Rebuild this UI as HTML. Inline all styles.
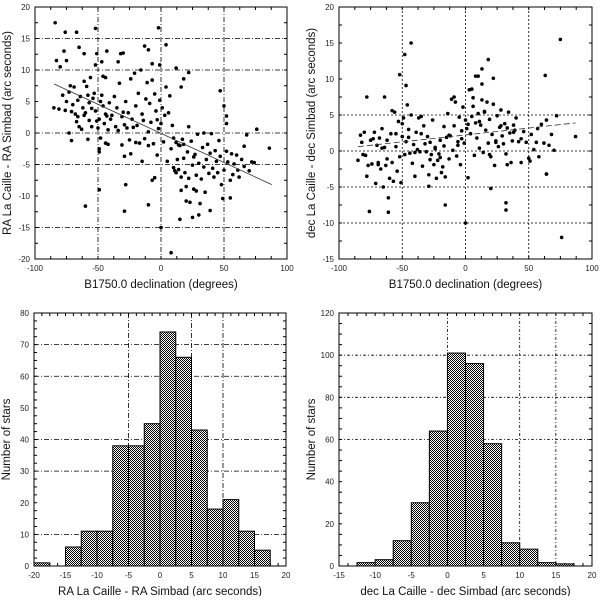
<!DOCTYPE html>
<html><head><meta charset="utf-8"><style>
body{margin:0;background:#fff;width:600px;height:596px;overflow:hidden}
svg{font-family:"Liberation Sans",sans-serif}
</style></head><body>
<svg id="fig" width="600" height="596" viewBox="0 0 600 596">
<defs><pattern id="chk" width="2" height="2" patternUnits="userSpaceOnUse"><rect width="2" height="2" fill="#fff"/><rect width="1" height="1" fill="#000"/><rect x="1" y="1" width="1" height="1" fill="#000"/></pattern></defs>
</svg>
<script>
// ---- top-left scatter data: declination, RA diff
const raDec=[-84,-76,-67,-52,-2,4,-83,-80,-75,-77,-65,-61,-51,-43,-32,-30,-34,-47,-52,-13,-10,-1,-7,12,22,18,16,47,50,52,52,76,68,86,74,66,49,55,39,30,25,15,8,0,-10,-29,-60,-49,-28,-7,-5,-29,-24,-85,-81,-73,-71,-58,-49,-49,
-78,-75,-73,-70,-68,-66,-64,-62,-60,-58,-57,-55,-54,-52,-50,-49,-47,-46,-45,-44,-43,-42,-41,-40,-72,-69,-67,-65,-63,-61,-59,-56,-53,-48,-46,-44,-71,-76,-66,-61,-57,-55,-51,-48,-44,-42,-39,-37,-36,-35,-34,-33,-31,-30,-29,-28,-27,-26,-25,-24,-23,-22,-21,-20,-19,-18,-17,-16,-15,-14,-13,-12,-11,-10,-9,-8,-7,-6,-5,-4,-3,-2,-1,0,1,2,3,4,5,6,7,8,9,-31,-20,-15,-10,-3,
10,11,12,13,14,15,16,17,18,19,20,21,22,23,24,25,26,27,28,29,30,31,32,33,34,35,36,37,38,39,40,41,42,43,44,45,46,47,48,50,52,53,55,56,57,58,60,61,62,64,66,70,72,10,14,18,22,26,34,12,16,20,28];
const raDiff=[17.5,16,16,16.6,16.7,14,11.5,10.5,11.5,13,13.6,12.6,12.6,13,12.6,12.7,11.3,11.3,10.8,13.8,13.2,10.8,11,10.3,9.6,8.6,7.3,6.7,4.3,2.7,1.5,0.6,-0.3,-2.4,-4.7,-2.1,-10.4,-10.3,-12.3,-13,-13.4,-13.7,-19,-15,-11.4,-12.4,-11.6,-9,-8.2,-7.5,-7.1,-3.7,-3.3,4,3.8,0,-1.2,-1,-3,-2.5,
6,5,6.5,4.5,3,5.2,5.8,4,3.2,6,2,1,5.5,3.5,0.8,2.2,6,4.3,1.5,3,2.7,0.5,4.8,2.2,7.5,7.3,1.8,1,0.6,8.2,7.4,8.8,6.3,5,9,8.8,3.4,3.6,2.6,2.8,4.8,3.9,1.9,-0.8,-1.6,-1.8,2.8,5.8,1,4,0.4,7.9,2.6,3.3,1.3,5,0.8,3.2,-1.1,8.6,2.2,0.9,9.5,4.3,1.2,6.3,-1.6,10,3,2,-0.9,5.4,8,0.2,4.7,1.7,8.4,-1.7,6.2,3.5,2.1,0.7,5.2,1.5,4,-1.4,2.8,7.3,-4.5,3.2,5.9,-2.5,1.2,-1.9,-1.5,-4.5,-2,-3.5,
-5.5,-6,-1.5,-4.2,-5.8,-2,-7,-1,-4,-6.3,-10.8,-3,-7.2,-11,-1.3,-5.1,-8.9,-3.4,-6.7,-0.2,-4.8,-11.2,-7.3,-2.3,-5.4,-9.4,-4.2,-1.8,-6.4,-3.2,-0.1,-5.6,-7,-2.8,-4.5,-6.3,-1.2,-3.7,-8.2,-5.9,-2.9,-4.6,-7.5,-3.3,-6.6,-4.9,-3.5,-5.9,-7,-4.2,-5.3,-6,-4.6,-0.8,-1.9,-1.8,1,-3.8,0,-6.3,-9.1,-8.5,-9.2];
const raFitX=[-85,88];
const raFitY=[7.8,-8.2];
// ---- top-right scatter data: declination, dec diff
const ddDec=[63,75,76,87,0,32,32,-16,-76,-61,-43,-48,-52,-47,-78,-64,18,13,8,10,22,13,5,20,-29,64,64,72,
-85,-83,-81,-80,-78,-77,-75,-74,-72,-71,-70,-69,-68,-67,-66,-65,-64,-63,-62,-61,-60,-59,-58,-57,-56,-55,-54,-53,-52,-51,-50,-49,-48,-47,-46,-45,-44,-43,-42,-41,-40,-39,-38,-37,-36,
-35,-34,-33,-32,-31,-30,-29,-28,-27,-26,-25,-24,-23,-22,-21,-20,-19,-18,-17,-16,-15,-14,-13,-12,-11,-10,-9,-8,-7,-6,-5,-4,-3,-2,-1,
0,1,2,3,4,5,6,7,8,9,10,11,12,13,14,15,16,17,18,19,20,21,22,23,24,25,26,27,28,29,30,31,32,33,34,35,36,37,38,39,40,42,44,46,48,50,52,54,56,58,60,62,64,66,68,70,
-82,-79,-73,-69,-66,-62,-58,-55,-50,-45,-40,-35,-28,-24,-20,-17,-13,-9,-6,-3,2,6,11,15,19,24,28,33,38,44,51,57];
const ddDiff=[10.5,15.5,-12,2,-10,-7.2,-8.2,-7.5,-8.4,-8.5,15,13.4,10.6,9.1,7.5,7.5,12.7,11.4,10.4,10.4,10.1,9.3,8.6,-5.2,-4.9,-3.2,4.3,4.9,
-1.3,2.2,-0.5,2.6,-3.5,-2,1.5,-1.8,2.6,-4.5,0.8,-1.6,1.8,-2.5,3.1,-5,0.5,-2,1.5,-6.5,-3.8,2.4,-1.6,-4.2,5.4,0.6,-2.8,4.1,-0.8,-4.4,2,4.6,-0.5,1.3,6.4,3,-0.3,5,-1.7,0.9,-3.5,2.6,0.2,4.6,-0.1,
2.4,-2.1,3.5,1,-0.1,2,-3.3,1.2,-0.5,4.3,-1.9,0.3,-3.8,-1.3,-0.4,1.5,-3,-2.2,0.7,-3.6,1.9,5.2,-1.1,2.1,7.2,0.1,3.5,6.8,-0.7,1.3,4.7,-1.9,2.8,6.1,1.1,
4.3,3.1,-3.7,8.5,2.4,4.8,6.2,-0.6,3.9,1.8,5.2,0.4,3.6,7.1,-0.2,5.5,2.9,6.8,1.1,4.4,-0.8,2.3,6.5,-2,1.2,4.9,0.6,3.3,5.7,2.1,1,3.8,-0.4,3.2,5.4,2.5,-1.6,1.4,3.6,2.9,4.6,1.3,-1.6,2.7,1.2,-1,2.3,0.2,1.2,-0.8,3.7,1.1,-3.2,0.8,2.3,0.1,
1.2,-0.6,1.7,-1.9,0.4,-1.1,5.6,2.4,3.8,1.9,-0.2,4.8,-1.2,0.5,-0.9,3.4,2.2,7.5,0.8,1.7,3.7,7.4,4.1,5.4,-0.5,1.4,3.5,-1.9,2.6,1.7,-1.4,3.1];
const ddFitX=[-85,87];
const ddFitY=[0.6,3.9];
// ---- bottom-left histogram (RA diff)
const raBinStart=[-20,-15,-12.5,-10,-7.5,-5,-2.5,0,2.5,5,7.5,10,12.5,15];
const raCounts=[1,6,11,11,38,38,45,74,66,43,18,21,11,5];
// ---- bottom-right histogram (dec diff)
const dcBinStart=[-12.5,-10,-7.5,-5,-2.5,0,2.5,5,7.5,10,12.5,15];
const dcCounts=[1.6,3,12,30,64,101,96,58,11,8,1.6,1];
// ticks
const tlXTicks=[-100,-50,0,50,100], tlYTicks=[-20,-15,-10,-5,0,5,10,15,20];
const trXTicks=[-100,-50,0,50,100], trYTicks=[-15,-10,-5,0,5,10,15,20];
const blXTicks=[-20,-15,-10,-5,0,5,10,15,20], blYTicks=[0,10,20,30,40,50,60,70,80];
const brXTicks=[-15,-10,-5,0,5,10,15,20], brYTicks=[0,20,40,60,80,100,120];

const NS='http://www.w3.org/2000/svg';
const fig=document.getElementById('fig');
function mk(tag,attrs,parent){const e=document.createElementNS(NS,tag);for(const k in attrs)e.setAttribute(k,attrs[k]);(parent||fig).appendChild(e);return e;}
function scale(d0,d1,r0,r1){return v=>r0+(v-d0)/(d1-d0)*(r1-r0);}

function panel(name,L,R,T,B,xd,yd,xt,yt,xMinor,yMinor,hGrid,vGrid,dash,xTitle,yTitle){
  const g=mk('g',{});
  
  
  const sx=scale(xd[0],xd[1],L,R), sy=scale(yd[0],yd[1],B,T);
  hGrid.forEach(v=>{const l=mk('line',{x1:L,x2:R,y1:sy(v),y2:sy(v),stroke:'#000','stroke-width':0.8,'stroke-dasharray':dash},g);
    
    });
  vGrid.forEach(v=>{const l=mk('line',{y1:T,y2:B,x1:sx(v),x2:sx(v),stroke:'#000','stroke-width':0.8,'stroke-dasharray':dash},g);
    
    });
  const tg=mk('g',{stroke:'#000','stroke-width':1},g);
  
  
  for(let v=xd[0];v<=xd[1]+1e-9;v+=xMinor){const x=sx(v);mk('line',{x1:x,x2:x,y1:B,y2:B-3},tg);mk('line',{x1:x,x2:x,y1:T,y2:T+3},tg);}
  for(let v=yd[0];v<=yd[1]+1e-9;v+=yMinor){const y=sy(v);mk('line',{x1:L,x2:L+3,y1:y,y2:y},tg);mk('line',{x1:R,x2:R-3,y1:y,y2:y},tg);}
  const ax=mk('rect',{x:L,y:T,width:R-L,height:B-T,fill:'none',stroke:'#000','stroke-width':1},g);
  
  
  xt.forEach(v=>{const t=mk('text',{x:sx(v),y:B+12,'font-size':8,'text-anchor':'middle',fill:'#222'},g);t.textContent=v;
    
    });
  yt.forEach(v=>{const t=mk('text',{x:L-5,y:sy(v)+3,'font-size':8,'text-anchor':'end',fill:'#222'},g);t.textContent=v;
    
    });
  const xtl=mk('text',{x:(L+R)/2,y:B+29,'font-size':11.5,'text-anchor':'middle',fill:'#111'},g);xtl.textContent=xTitle;
  
  
  const cy=(T+B)/2;
  const ytl=mk('text',{x:L-24,y:cy,'font-size':11.5,'text-anchor':'middle',fill:'#111',transform:`rotate(-90 ${L-24} ${cy})`},g);ytl.textContent=yTitle;
  
  
  return {g,sx,sy};
}

// TL
let p=panel('ra-scatter-panel',35,287,7,259,[-100,100],[-20,20],tlXTicks,tlYTicks,12.5,2.5,[15,10,0,-5,-15],[-50,0,50],'5,2,1,2','B1750.0 declination (degrees)','RA La Caille - RA Simbad (arc seconds)');
raDec.forEach((d,i)=>{const c=mk('circle',{cx:p.sx(d),cy:p.sy(raDiff[i]),r:1.8,fill:'#000'},p.g);
  
  });
let fl=mk('line',{x1:p.sx(raFitX[0]),y1:p.sy(raFitY[0]),x2:p.sx(raFitX[1]),y2:p.sy(raFitY[1]),stroke:'#333','stroke-width':0.8},p.g);



// TR
p=panel('dec-scatter-panel',339,592,7,259,[-100,100],[-15,20],trXTicks,trYTicks,12.5,2.5,[5,0,-5,-10],[-50,0,50],'2,2','B1750.0 declination (degrees)','dec La Caille - dec Simbad (arc seconds)');
ddDec.forEach((d,i)=>{const c=mk('circle',{cx:p.sx(d),cy:p.sy(ddDiff[i]),r:1.8,fill:'#000'},p.g);
  
  });
fl=mk('line',{x1:p.sx(ddFitX[0]),y1:p.sy(ddFitY[0]),x2:p.sx(ddFitX[1]),y2:p.sy(ddFitY[1]),stroke:'#333','stroke-width':0.8,'stroke-dasharray':'6,3'},p.g);



// BL
p=panel('ra-histogram-panel',34,286,313,566,[-20,20],[0,80],blXTicks,blYTicks,1.25,2.5,[70,60,40,30,10],[-5,5,10],'5,2,1,2','RA La Caille - RA Simbad (arc seconds)','Number of stars');
raBinStart.forEach((s,i)=>{const x0=p.sx(s),x1=p.sx(s+2.5),y=p.sy(raCounts[i]);
  const r=mk('rect',{x:x0,y:y,width:x1-x0,height:p.sy(0)-y,fill:'url(#chk)',stroke:'#000','stroke-width':1},p.g);
  
  });

// BR
p=panel('dec-histogram-panel',339,592,313,566,[-15,20],[0,120],brXTicks,brYTicks,1.25,5,[100,80,60],[0,10,15],'3,2,1,2','dec La Caille - dec Simbad (arc seconds)','Number of stars');
dcBinStart.forEach((s,i)=>{const x0=p.sx(s),x1=p.sx(s+2.5),y=p.sy(dcCounts[i]);
  const r=mk('rect',{x:x0,y:y,width:x1-x0,height:p.sy(0)-y,fill:'url(#chk)',stroke:'#000','stroke-width':1},p.g);
  
  });
</script>
</body></html>
